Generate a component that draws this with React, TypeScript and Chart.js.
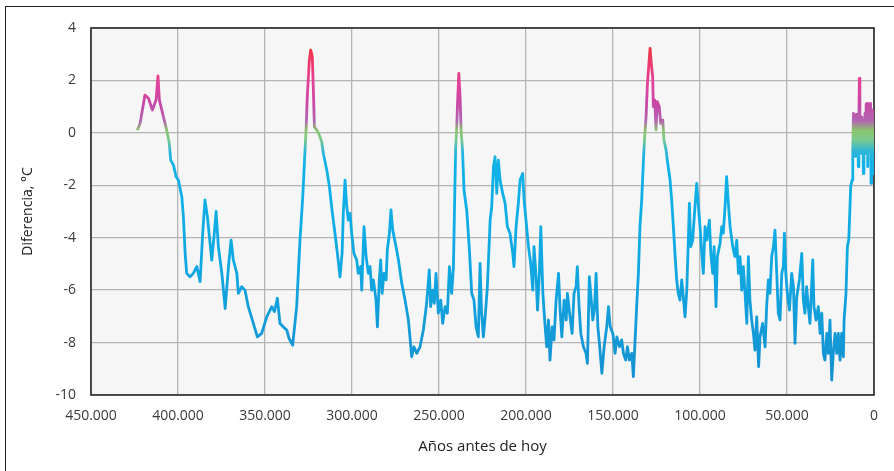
import React, { useEffect, useRef } from "react";
import { Chart, registerables } from "chart.js";

Chart.register(...registerables);

// Years before present
const ages: number[] = [
  423400, 421800, 419000, 417000, 414700, 412600, 411500, 410700, 408400, 406500,
  405000, 404200, 402600, 401100, 399800, 397800, 396900, 395900, 395000, 393100,
  391200, 389200, 387300, 385800, 384500, 383100, 380600, 379300, 378100, 376800,
  374800, 372900, 371000, 369500, 368200, 366200, 365300, 363400, 361500, 359600,
  356700, 354400, 351900, 349000, 346100, 344600, 342900, 341400, 339500, 337500,
  336200, 334100, 331800, 329900, 328300, 327000, 326400, 325700, 324500, 323700,
  322800, 322200, 321600, 320300, 318800, 317400, 316500, 314500, 313000, 311700,
  309800, 308400, 306900, 305700, 305000, 304000, 303000, 302100, 301100, 300200,
  298900, 297300, 296400, 295000, 294400, 293100, 291900, 290600, 289600, 288700,
  287700, 286200, 285400, 284300, 283500, 282700, 281600, 280400, 279700, 278500,
  277600, 276600, 274700, 273300, 271400, 269500, 267600, 266700, 265700, 264400,
  262800, 260900, 259000, 257100, 255600, 254800, 253600, 252700, 251700, 250400,
  249000, 247900, 246500, 245200, 244000, 242700, 241700, 240900, 240400, 239800,
  239200, 238600, 237900, 237300, 236500, 235600, 234000, 232500, 231200, 229900,
  228700, 227400, 226400, 225600, 224500, 223300, 222200, 220600, 219700, 218700,
  217800, 216800, 215900, 214900, 213400, 212000, 210700, 209200, 207600, 206900,
  205700, 204400, 203400, 201900, 201100, 200000, 198600, 197300, 196100, 195400,
  194200, 193400, 192300, 191500, 190300, 189000, 188100, 187100, 186200, 185000,
  183900, 182700, 181300, 180400, 179400, 178100, 176900, 176200, 174700, 173500,
  172400, 171200, 170500, 169600, 168500, 167000, 165500, 164700, 163600, 162800,
  161600, 160700, 159700, 158700, 157800, 156400, 155100, 153600, 152600, 151600,
  150100, 148800, 147800, 146300, 145000, 144000, 142700, 141700, 140600, 139200,
  138300, 137300, 136400, 135400, 134500, 133500, 132500, 131900, 131000, 130200,
  129500, 128700, 128000, 127200, 126800, 126000, 125300, 124500, 123400, 122600,
  121400, 120700, 119500, 118800, 117200, 116300, 115300, 114400, 113400, 112500,
  111500, 110500, 109600, 108600, 107600, 106700, 106100, 105300, 104200, 102900,
  101900, 100900, 100000, 99000, 98100, 97100, 96100, 94600, 93800, 92700,
  91900, 90800, 90000, 88500, 87500, 86600, 85600, 84700, 83700, 82700,
  81200, 79900, 78900, 77900, 77000, 76000, 75100, 74100, 73100, 72200,
  71300, 70300, 69300, 68400, 67400, 66300, 65500, 64000, 62600, 61700,
  60700, 59800, 58800, 57800, 56900, 55900, 55000, 54000, 53000, 52100,
  51500, 50700, 49800, 48600, 47300, 46300, 45400, 44400, 42900, 41500,
  40600, 39700, 38700, 37800, 36800, 35200, 34500, 33300, 32000, 31000,
  30000, 29100, 28200, 27100, 26200, 25300, 24300, 23400, 22400, 21400,
  20500, 19500, 18600, 17600, 17200, 16100, 15300, 14500, 13800, 13400,
  12600, 12200, 11800, 11400, 11000, 10600, 10200, 9800, 9400, 9000,
  8700, 8400, 8100, 7600, 7300, 6900, 6500, 6100, 5800, 5500,
  5200, 4800, 4500, 4200, 3900, 3600, 3300, 3000, 2700, 2300,
  2000, 1700, 1400, 1000, 700, 400, 100,
];

// Temperature difference, °C
const temps: number[] = [
  0.1, 0.36, 1.44, 1.32, 0.87, 1.25, 2.17, 1.25, 0.62, 0.11,
  -0.4, -1.04, -1.23, -1.67, -1.8, -2.44, -3.2, -4.6, -5.36, -5.49,
  -5.36, -5.1, -5.68, -3.83, -2.56, -3.2, -4.85, -3.96, -3.0, -4.34,
  -5.36, -6.7, -5.1, -4.09, -4.85, -5.36, -6.12, -5.87, -6.0, -6.63,
  -7.27, -7.78, -7.65, -7.02, -6.63, -6.82, -6.31, -7.27, -7.4, -7.52,
  -7.84, -8.1, -6.63, -4.09, -2.44, -0.65, 0.11, 1.38, 2.78, 3.16,
  2.9, 1.63, 0.23, 0.11, -0.08, -0.34, -0.78, -1.42, -2.05, -2.82,
  -3.83, -4.6, -5.49, -4.6, -3.07, -1.8, -2.82, -3.33, -3.07, -3.83,
  -4.6, -4.85, -5.36, -5.1, -6.0, -3.58, -4.72, -5.36, -5.1, -6.0,
  -5.61, -6.38, -7.4, -5.61, -4.85, -6.12, -5.36, -5.61, -4.47, -3.83,
  -2.94, -3.71, -4.34, -4.85, -5.74, -6.38, -7.14, -7.78, -8.54, -8.16,
  -8.41, -8.16, -7.52, -6.5, -5.23, -6.63, -6.0, -6.5, -5.36, -6.88,
  -6.38, -7.27, -6.63, -6.88, -5.1, -6.12, -5.1, -2.18, -0.53, 0.23,
  1.38, 2.27, 1.38, 0.11, -0.65, -2.2, -3.0, -4.5, -6.12, -6.38,
  -7.4, -7.78, -4.98, -6.76, -7.78, -6.88, -5.87, -3.33, -2.82, -1.29,
  -0.91, -2.31, -1.04, -1.8, -2.31, -2.69, -3.58, -3.83, -4.6, -5.1,
  -3.58, -2.69, -1.8, -1.55, -2.56, -3.33, -4.34, -4.98, -6.0, -4.34,
  -5.49, -6.76, -5.36, -3.58, -6.12, -7.4, -8.16, -7.14, -8.67, -7.4,
  -7.9, -6.38, -5.36, -6.76, -7.78, -6.38, -7.14, -6.12, -7.02, -7.65,
  -6.12, -5.87, -5.1, -6.5, -7.65, -8.16, -8.41, -8.79, -5.49, -6.12,
  -7.14, -6.76, -5.36, -7.4, -8.03, -9.17, -8.16, -7.4, -6.63, -7.4,
  -7.65, -8.41, -7.78, -8.16, -7.9, -8.41, -8.67, -8.16, -8.67, -8.41,
  -9.3, -7.9, -6.63, -5.36, -3.58, -2.56, -1.04, -0.27, 0.62, 1.89,
  2.52, 3.22, 2.65, 2.14, 1.0, 1.25, 0.11, 1.19, 1.0, 0.36,
  0.49, -0.27, -0.65, -1.04, -1.8, -2.56, -3.58, -4.6, -5.61, -6.12,
  -6.38, -5.61, -6.25, -7.02, -6.0, -4.09, -2.69, -4.34, -4.09, -2.82,
  -1.93, -2.82, -3.58, -4.6, -5.36, -3.58, -4.09, -3.33, -4.6, -5.36,
  -4.34, -6.63, -4.72, -4.22, -3.58, -3.83, -2.82, -1.67, -2.69, -3.58,
  -4.34, -4.72, -4.09, -5.36, -4.72, -6.0, -5.1, -6.12, -7.27, -4.72,
  -6.38, -7.14, -7.65, -8.29, -7.02, -8.92, -7.78, -7.27, -8.16, -6.63,
  -5.61, -6.12, -4.72, -4.34, -3.71, -5.36, -6.88, -7.14, -5.36, -5.1,
  -3.83, -5.36, -6.12, -6.76, -5.36, -5.87, -8.03, -6.25, -5.61, -4.6,
  -6.38, -6.88, -5.87, -6.63, -7.27, -4.85, -6.63, -7.14, -6.63, -7.65,
  -6.88, -8.41, -8.67, -7.65, -8.41, -7.14, -9.43, -8.41, -7.65, -8.41,
  -7.65, -8.67, -7.65, -8.54, -7.14, -6.12, -4.34, -4.09, -2.82, -2.05,
  -1.8, -0.65, 0.74, -0.6, 0.5, -0.9, 0.7, -0.5, 0.4, -1.29,
  0.5, 2.08, -0.2, -0.78, 0.6, -0.3, 0.4, -1.55, 0.5, -0.8,
  0.74, -0.6, 1.1, 0.3, 1.12, -1.29, 0.5, -0.7, 1.0, -0.4,
  1.12, -1.93, 0.5, 0.87, -1.2, -1.55, 0.3,
];

const xTicks: number[] = [450000, 400000, 350000, 300000, 250000, 200000, 150000, 100000, 50000, 0];
const yTicks: number[] = [4, 2, 0, -2, -4, -6, -8, -10];

const xTitle = "Años antes de hoy";
const yTitle = "Diferencia, °C";

const FONT = "'Open Sans', 'DejaVu Sans', sans-serif";
const TEXT = "#3a3a3a";

function fmtThousands(v: number): string {
  return String(v).replace(/\B(?=(\d{3})+(?!\d))/g, ".");
}

const plotPlugin = {
  id: "plotFrame",
  beforeDraw(chart: any) {
    const { ctx, chartArea } = chart;
    if (!chartArea) return;
    ctx.save();
    ctx.fillStyle = "#f6f6f6";
    ctx.fillRect(chartArea.left, chartArea.top, chartArea.right - chartArea.left, chartArea.bottom - chartArea.top);
    ctx.restore();
  },
  beforeDatasetsDraw(chart: any) {
    const { ctx, chartArea } = chart;
    ctx.save();
    ctx.strokeStyle = "#2a2a2a";
    ctx.lineWidth = 1.6;
    ctx.strokeRect(chartArea.left, chartArea.top, chartArea.right - chartArea.left, chartArea.bottom - chartArea.top);
    ctx.restore();
  },
};

function lineColor(context: any) {
  const chart = context.chart;
  const { ctx, chartArea, scales } = chart;
  if (!chartArea || !scales.y) return "#14a6e0";
  const y = scales.y;
  const top = 3.3;
  const bot = -9.6;
  const g = ctx.createLinearGradient(0, y.getPixelForValue(top), 0, y.getPixelForValue(bot));
  const stop = (v: number, c: string) => g.addColorStop((top - v) / (top - bot), c);
  stop(3.3, "#f2363c");
  stop(2.6, "#ee3a72");
  stop(1.9, "#e2429c");
  stop(1.0, "#c44aa8");
  stop(0.45, "#b266b0");
  stop(0.1, "#8cc46e");
  stop(-0.25, "#7cca8c");
  stop(-0.7, "#2cb6d8");
  stop(-1.2, "#10b2e8");
  stop(-5, "#10a8e2");
  stop(-9.6, "#1690cf");
  return g;
}

export default function App() {
  const ref = useRef<HTMLCanvasElement | null>(null);

  useEffect(() => {
    if (!ref.current) return;
    const points = ages.map((a, i) => ({ x: a, y: temps[i] }));
    const chart = new Chart(ref.current, {
      type: "line",
      data: {
        datasets: [
          {
            data: points,
            borderColor: lineColor,
            borderWidth: 2.8,
            pointRadius: 0,
            tension: 0,
            fill: false,
            borderJoinStyle: "round",
          } as any,
        ],
      },
      plugins: [plotPlugin],
      options: {
        responsive: false,
        animation: false,
        devicePixelRatio: 1,
        layout: { padding: { left: 0, right: 20, top: 28, bottom: 0 } },
        plugins: { legend: { display: false }, tooltip: { enabled: false } },
        scales: {
          x: {
            type: "linear",
            reverse: true,
            min: 0,
            max: 450000,
            afterBuildTicks: (scale: any) => {
              scale.ticks = xTicks.map((v) => ({ value: v }));
            },
            afterFit: (scale: any) => {
              scale.height = 76;
            },
            border: { display: false },
            grid: { color: "#b4b4b4", lineWidth: 1.3, drawTicks: false },
            ticks: {
              padding: 13,
              color: TEXT,
              font: { family: FONT, size: 14 },
              maxRotation: 0,
              autoSkip: false,
              callback: (v: any) => fmtThousands(Number(v)),
            },
            title: {
              display: true,
              text: xTitle,
              color: "#222",
              font: { family: FONT, size: 15 },
              padding: { top: 0, bottom: 15 },
            },
          },
          y: {
            type: "linear",
            min: -10,
            max: 4,
            afterBuildTicks: (scale: any) => {
              scale.ticks = yTicks.map((v) => ({ value: v }));
            },
            afterFit: (scale: any) => {
              scale.width = 91;
            },
            border: { display: false },
            grid: { color: "#b4b4b4", lineWidth: 1.3, drawTicks: false },
            ticks: {
              padding: 15,
              color: TEXT,
              font: { family: FONT, size: 14 },
              autoSkip: false,
              callback: (v: any) => String(v),
            },
            title: {
              display: true,
              text: yTitle,
              color: "#222",
              font: { family: FONT, size: 14 },
              padding: { top: 20, bottom: 0 },
            },
          },
        },
      },
    });
    return () => chart.destroy();
  }, []);

  return (
    <div>
      <div
        style={{
          position: "fixed",
          left: 5,
          top: 6,
          width: 1200,
          height: 1200,
          border: "1px solid #222",
          boxSizing: "border-box",
        }}
      />
      <canvas
        ref={ref}
        width={894}
        height={471}
        style={{ position: "fixed", left: 0, top: 0, width: 894, height: 471 }}
      />
    </div>
  );
}
